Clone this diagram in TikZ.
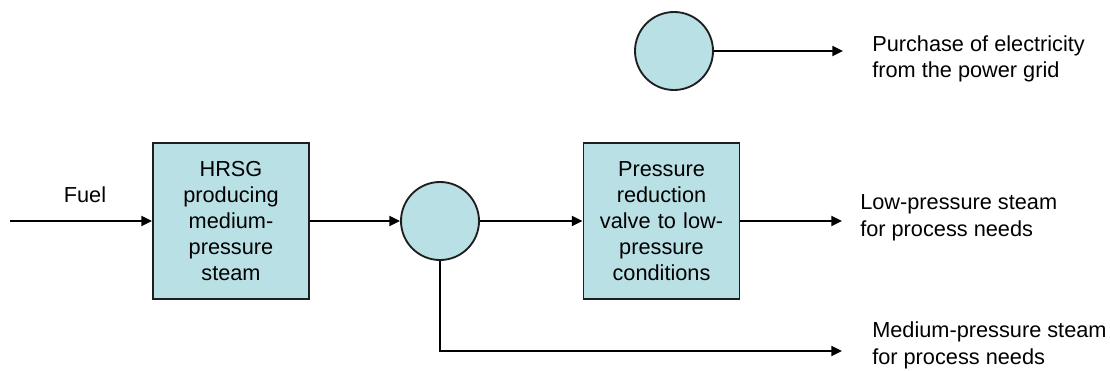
\documentclass[tikz,border=0pt]{standalone}
\usepackage{fontspec}
\setmainfont{Liberation Sans}
\usetikzlibrary{arrows.meta}
\definecolor{boxfill}{RGB}{185,224,228}
\definecolor{edgegray}{RGB}{30,30,30}
\begin{document}
\begin{tikzpicture}[x=0.75pt,y=-0.75pt,
  every node/.style={font=\fontsize{16.3pt}{19.4pt}\selectfont},
  procbox/.style={draw=edgegray,line width=1.4pt,fill=boxfill,minimum width=117pt,minimum height=117.5pt,inner sep=0pt,align=center,text width=110pt},
  junction/.style={draw=edgegray,line width=1.4pt,fill=boxfill,circle,minimum size=58.5pt,inner sep=0pt},
  outlabel/.style={anchor=west,align=left,inner sep=0pt,font=\fontsize{16.3pt}{20pt}\selectfont},
  arr/.style={line width=1.4pt,-{Triangle[length=8pt,width=7.5pt]}},
  plain/.style={line width=1.4pt}]
\useasboundingbox (0,0) rectangle (1110,371);
\node[procbox] (hrsg) at (231,221) {HRSG\\producing\\medium-\\pressure\\steam};
\node[junction] (j1) at (440,221) {};
\node[procbox] (prv) at (661.5,221) {Pressure\\reduction\\valve to low-\\pressure\\conditions};
\node[junction] (j2) at (674,51) {};
\coordinate (fuelstart) at (10,221);
\coordinate (lpend) at (842,221);
\coordinate (mpend) at (842,351);
\coordinate (gridend) at (843,51);
\node[inner sep=0pt] (fuel) at (85,195) {Fuel};
\node[outlabel] (lplab) at (860,218) {Low-pressure steam\\for process needs};
\node[outlabel] (mplab) at (872,345.5) {Medium-pressure steam\\for process needs};
\node[outlabel] (gridlab) at (872,59) {Purchase of electricity\\from the power grid};
\draw[arr] (fuelstart) -- (hrsg.west);
\draw[arr] (hrsg.east) -- (j1.west);
\draw[arr] (j1.east) -- (prv.west);
\draw[arr] (prv.east) -- (lpend);
\draw[arr] (j1.south) |- (mpend);
\draw[arr] (j2.east) -- (gridend);
\end{tikzpicture}
\end{document}
